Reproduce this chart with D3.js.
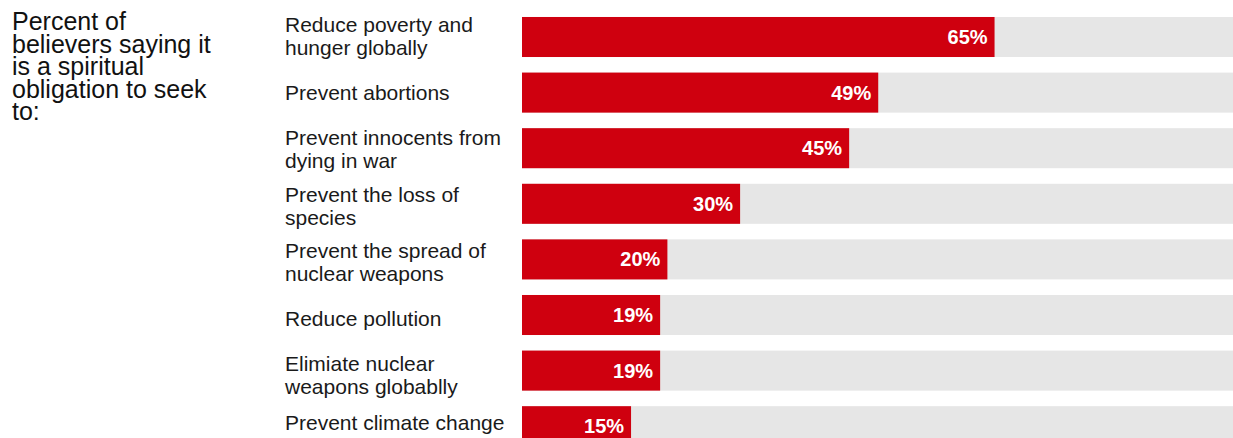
<!DOCTYPE html>
<html><head><meta charset="utf-8">
<script src="https://cdn.jsdelivr.net/npm/d3@7"></script>
<style>
html,body{margin:0;padding:0;background:#fff;overflow:hidden;}
svg{display:block;font-family:"Liberation Sans",Arial,sans-serif;}
</style></head>
<body>
<svg id="chart" width="1233" height="438"></svg>
<script>
const titleLines = ["Percent of", "believers saying it", "is a spiritual", "obligation to seek", "to:"];
const categories = [
  ["Reduce poverty and", "hunger globally"],
  ["Prevent abortions"],
  ["Prevent innocents from", "dying in war"],
  ["Prevent the loss of", "species"],
  ["Prevent the spread of", "nuclear weapons"],
  ["Reduce pollution"],
  ["Elimiate nuclear", "weapons globablly"],
  ["Prevent climate change"]
];
const values = [65, 49, 45, 30, 20, 19, 19, 15];
const maxValue = 100;

const W = 1233, H = 438;
const svg = d3.select("#chart");
const ids = categories.map((c, i) => i);

const x = d3.scaleLinear().domain([0, maxValue]).range([522, 1249]);
const y = d3.scaleBand().domain(ids).range([9.2, 9.2 + 8 * 55.6]).paddingInner(0.28).paddingOuter(0.14);
// label column uses its own, slightly looser row pitch
const yLab = d3.scalePoint().domain(ids).range([43.7, 43.7 + 7 * 56.5]);

// title
const t = svg.append("text").attr("font-size", 25).attr("fill", "#111");
titleLines.forEach((l, i) => {
  t.append("tspan").attr("x", 12).attr("y", 30 + i * 22.6).text(l);
});

// tracks
svg.selectAll("rect.track").data(ids).join("rect").attr("class", "track")
  .attr("x", x(0)).attr("y", d => y(d)).attr("width", x(maxValue) - x(0))
  .attr("height", y.bandwidth()).attr("fill", "#e6e6e6");

// bars
svg.selectAll("rect.bar").data(ids).join("rect").attr("class", "bar")
  .attr("x", x(0)).attr("y", d => y(d)).attr("width", d => x(values[d]) - x(0))
  .attr("height", y.bandwidth()).attr("fill", "#cf000f");

// value labels
svg.selectAll("text.val").data(ids).join("text").attr("class", "val")
  .attr("x", d => x(values[d]) - 7).attr("y", d => y(d) + y.bandwidth() / 2 + 7)
  .attr("text-anchor", "end").attr("font-size", 20).attr("font-weight", "bold")
  .attr("fill", "#fff").text(d => values[d] + "%");

// category labels
ids.forEach(d => {
  const lines = categories[d];
  const a = Math.min(yLab(d), H - 8);
  const g = svg.append("text").attr("font-size", 21).attr("fill", "#1a1a1a");
  if (lines.length === 1) {
    g.append("tspan").attr("x", 285).attr("y", a).text(lines[0]);
  } else {
    g.append("tspan").attr("x", 285).attr("y", a - 11.7).text(lines[0]);
    g.append("tspan").attr("x", 285).attr("y", a + 11.7).text(lines[1]);
  }
});
</script>
</body></html>
